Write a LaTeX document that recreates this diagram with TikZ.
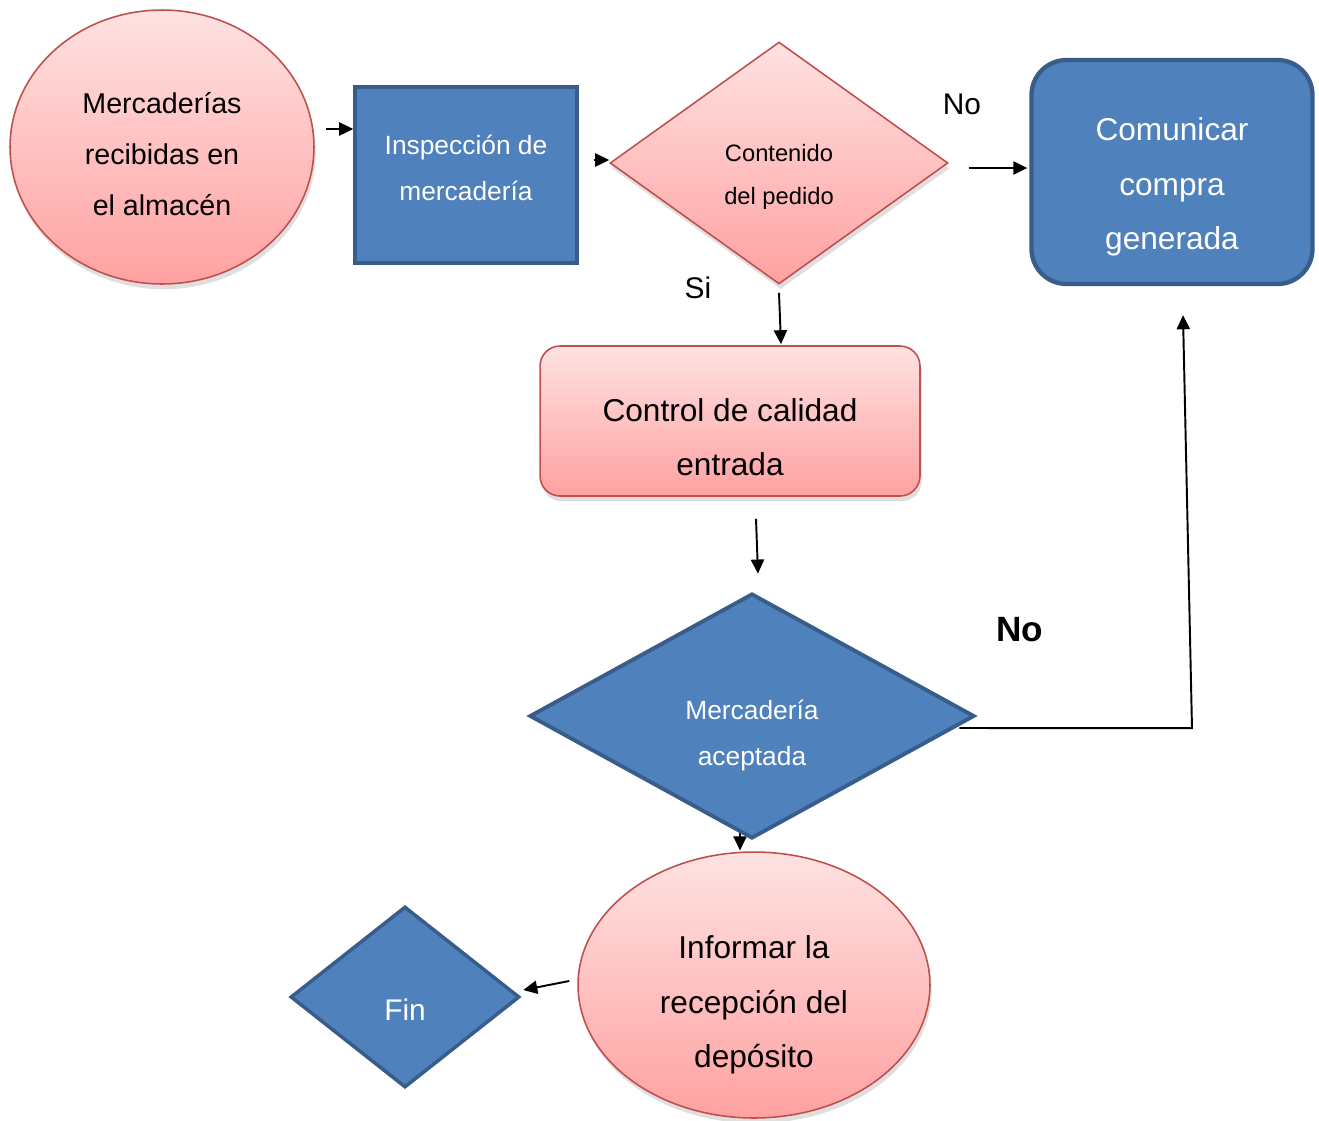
\documentclass[tikz,border=0pt]{standalone}
\usepackage{fontspec}
\setmainfont{Liberation Sans}
\usetikzlibrary{shapes.geometric,arrows.meta,calc,shadows,backgrounds}

\definecolor{pinktop}{RGB}{255,226,226}
\definecolor{pinkbot}{RGB}{255,161,161}
\definecolor{pinkline}{RGB}{192,80,77}
\definecolor{bluefill}{RGB}{79,129,189}
\definecolor{blueline}{RGB}{56,93,138}

\newcommand{\boxtext}[1]{\begin{tabular}{@{}c@{}}#1\end{tabular}}

\tikzset{
    pinkbox/.style={draw=pinkline, line width=0.9pt, top color=pinktop, bottom color=pinkbot, inner sep=0pt,
        drop shadow={opacity=0.25, shadow xshift=1pt, shadow yshift=-3pt}},
    bluebox/.style={draw=blueline, line width=2pt, fill=bluefill, text=white, inner sep=0pt},
    arr/.style={-{Triangle[length=8pt,width=7.5pt]}, line width=1.1pt},
    tpos/.style={text height=#1, text depth=0pt}
}

\begin{document}
\begin{tikzpicture}[x=0.02cm, y=-0.02cm]
                \useasboundingbox (0,0) rectangle (1319,1120);
                % shapes
                \node[pinkbox, ellipse, minimum width=6.08cm, minimum height=5.48cm, tpos=16.8pt,
                    font=\fontsize{16.3}{29}\selectfont] (rec) at (162,147) {\boxtext{Mercaderías\\recibidas en\\el almacén}};
                \node[bluebox, rectangle, minimum width=4.44cm, minimum height=3.52cm, tpos=0pt,
                    font=\fontsize{15}{26}\selectfont] (insp) at (466,175) {\boxtext{Inspección de\\mercadería}};
                \node[pinkbox, diamond, minimum width=6.76cm, minimum height=4.84cm, tpos=20pt,
                    font=\fontsize{13.5}{24.4}\selectfont] (cont) at (779,163) {\boxtext{Contenido\\del pedido}};
                \node[bluebox, rectangle, rounded corners=0.7cm, line width=2.5pt, minimum width=5.62cm, minimum height=4.48cm,
                    tpos=22.6pt, font=\fontsize{18}{31}\selectfont] (com) at (1172,172) {\boxtext{Comunicar\\compra\\generada}};
                \node[pinkbox, rectangle, rounded corners=0.4cm, minimum width=7.6cm, minimum height=3cm, tpos=27.8pt,
                    font=\fontsize{18}{31}\selectfont] (ctrl) at (730,421) {\boxtext{Control de calidad\\entrada}};
                \node[bluebox, diamond, line width=2.2pt, minimum width=8.9cm, minimum height=4.9cm, tpos=26.7pt,
                    font=\fontsize{15}{26}\selectfont] (acep) at (752,716) {\boxtext{Mercadería\\aceptada}};
                \node[pinkbox, ellipse, minimum width=7.04cm, minimum height=5.32cm, tpos=28.2pt,
                    font=\fontsize{18}{31}\selectfont] (inf) at (754,985) {\boxtext{Informar la\\recepción del\\depósito}};
                \node[bluebox, diamond, minimum width=4.58cm, minimum height=3.62cm, tpos=23.3pt,
                    font=\fontsize{17}{30}\selectfont] (fin) at (405,997) {\boxtext{Fin}};
                % labels
                \node[font=\fontsize{17}{20}\selectfont] (no1) at (962,104) {No};
                \node[font=\fontsize{17}{20}\selectfont] (si) at (698,288) {Si};
                \node[font=\bfseries\fontsize{20}{24}\selectfont] (no2) at (1020,630) {No};
                % arrows
                \draw[arr] ($(rec.east)+(11,-18)$) -- ($(insp.west)+(0,-46)$);
                \draw[arr] ($(insp.east)+(15,-15)$) -- ($(cont.west)+(0,-3)$);
                \draw[arr] ($(cont.east)+(20,5)$) -- ($(com.west)+(-2,-4)$);
                \draw[arr] ($(cont.south)+(0,8)$) -- ($(ctrl.north)+(51,-1)$);
                \draw[arr] ($(ctrl.south)+(26,22)$) -- ($(acep.north)+(6,-18)$);
                \draw[arr] ($(acep.east)+(-17,12)$) -- ($(com.south)+(20,442)$) -- ($(com.south)+(11,29)$);
                \draw[arr] ($(inf.west)+(-8,-4)$) -- ($(fin.east)+(2,-7)$);
                \begin{scope}[on background layer]
                    \draw[arr] ($(acep.south)+(-12,-20)$) -- ($(acep.south)+(-12,10)$);
                \end{scope}
            \end{tikzpicture}
\end{document}
